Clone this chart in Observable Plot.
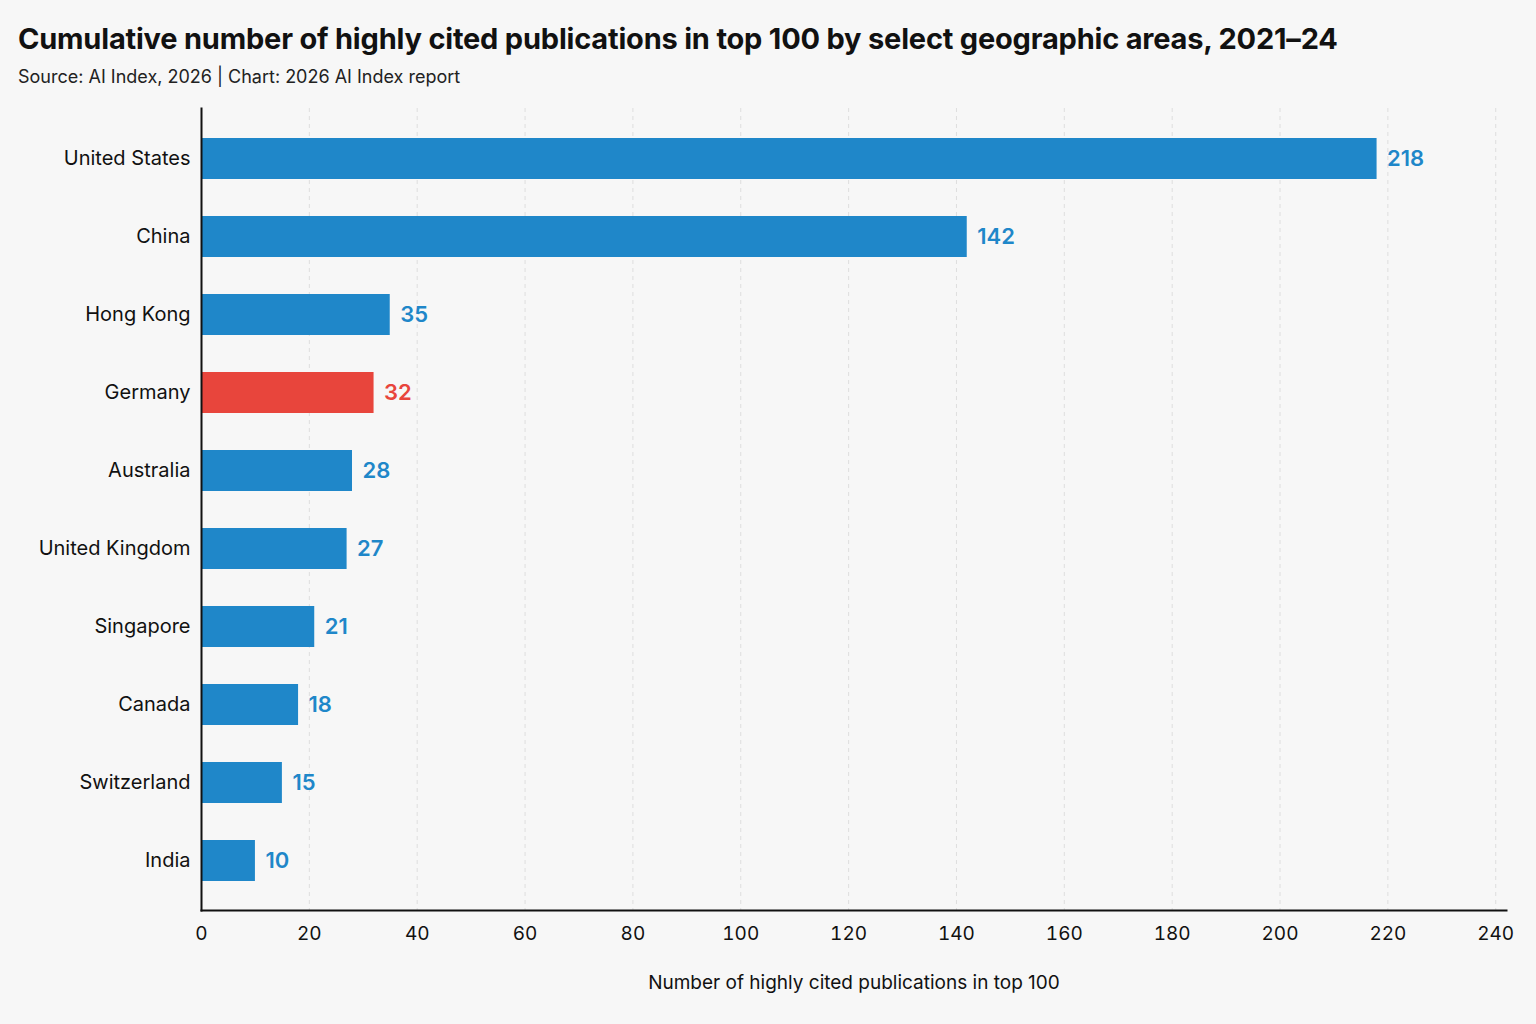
<!DOCTYPE html>
<html><head><meta charset="utf-8">
<script src="https://cdn.jsdelivr.net/npm/d3@7"></script>
<script src="https://cdn.jsdelivr.net/npm/@observablehq/plot@0.6"></script>
<style>
html,body{margin:0;background:#f7f7f7;font-family:Inter, "Noto Sans", sans-serif;}
#wrap{width:1536px;height:1024px;position:relative;overflow:hidden;}
h1{position:absolute;left:18px;top:21px;margin:0;font-size:29px;font-weight:700;color:#111;letter-spacing:-0.2px;white-space:nowrap}
.sub{position:absolute;left:18px;top:66px;font-size:18px;color:#222;white-space:nowrap}
#chart{position:absolute;left:0;top:96px}
</style></head>
<body><div id="wrap">
<h1>Cumulative number of highly cited publications in top 100 by select geographic areas, 2021–24</h1>
<div class="sub">Source: AI Index, 2026 | Chart: 2026 AI Index report</div>
<div id="chart"></div>
</div>
<script>
const countries = ["United States","China","Hong Kong","Germany","Australia","United Kingdom","Singapore","Canada","Switzerland","India"];
const counts = [218,142,35,32,28,27,21,18,15,10];
const highlighted = "Germany";
const xTicks = [0,20,40,60,80,100,120,140,160,180,200,220,240];
const blue = "#1f87c9", red = "#e8453c";

const data = countries.map((c,i)=>({country:c, value:counts[i], color: c===highlighted ? red : blue}));

const chart = Plot.plot({
  width: 1536,
  height: 928,
  marginLeft: 201,
  marginRight: 30,
  marginTop: 12,
  marginBottom: 114,
  style: {background: "transparent", fontSize: "19px", color: "#111", fontFamily: "Inter, sans-serif"},
  x: {domain: [0, 242]},
  y: {domain: countries, paddingInner: 0.48, paddingOuter: 0.355},
  color: {type: "identity"},
  marks: [
    Plot.gridX(xTicks.slice(1), {stroke: "#dedede", strokeOpacity: 1, strokeDasharray: "4,4", strokeWidth: 1}),
    Plot.barX(data, {x: "value", y: "country", fill: "color"}),
    Plot.text(data, {x: "value", y: "country", text: d => String(d.value), fill: "color", dx: 10, textAnchor: "start", fontSize: 22, fontWeight: 600}),
    Plot.axisX({ticks: xTicks, tickSize: 0, tickPadding: 16, fontSize: 19, label: "Number of highly cited publications in top 100", labelAnchor: "center", labelOffset: 78, labelArrow: "none"}),
    Plot.axisY({tickSize: 0, tickPadding: 11, fontSize: 20, label: null}),
    Plot.frame({anchor: "bottom", stroke: "#111", strokeWidth: 2}),
    Plot.frame({anchor: "left", stroke: "#111", strokeWidth: 2})
  ]
});
document.getElementById("chart").appendChild(chart);
</script>
</body></html>
